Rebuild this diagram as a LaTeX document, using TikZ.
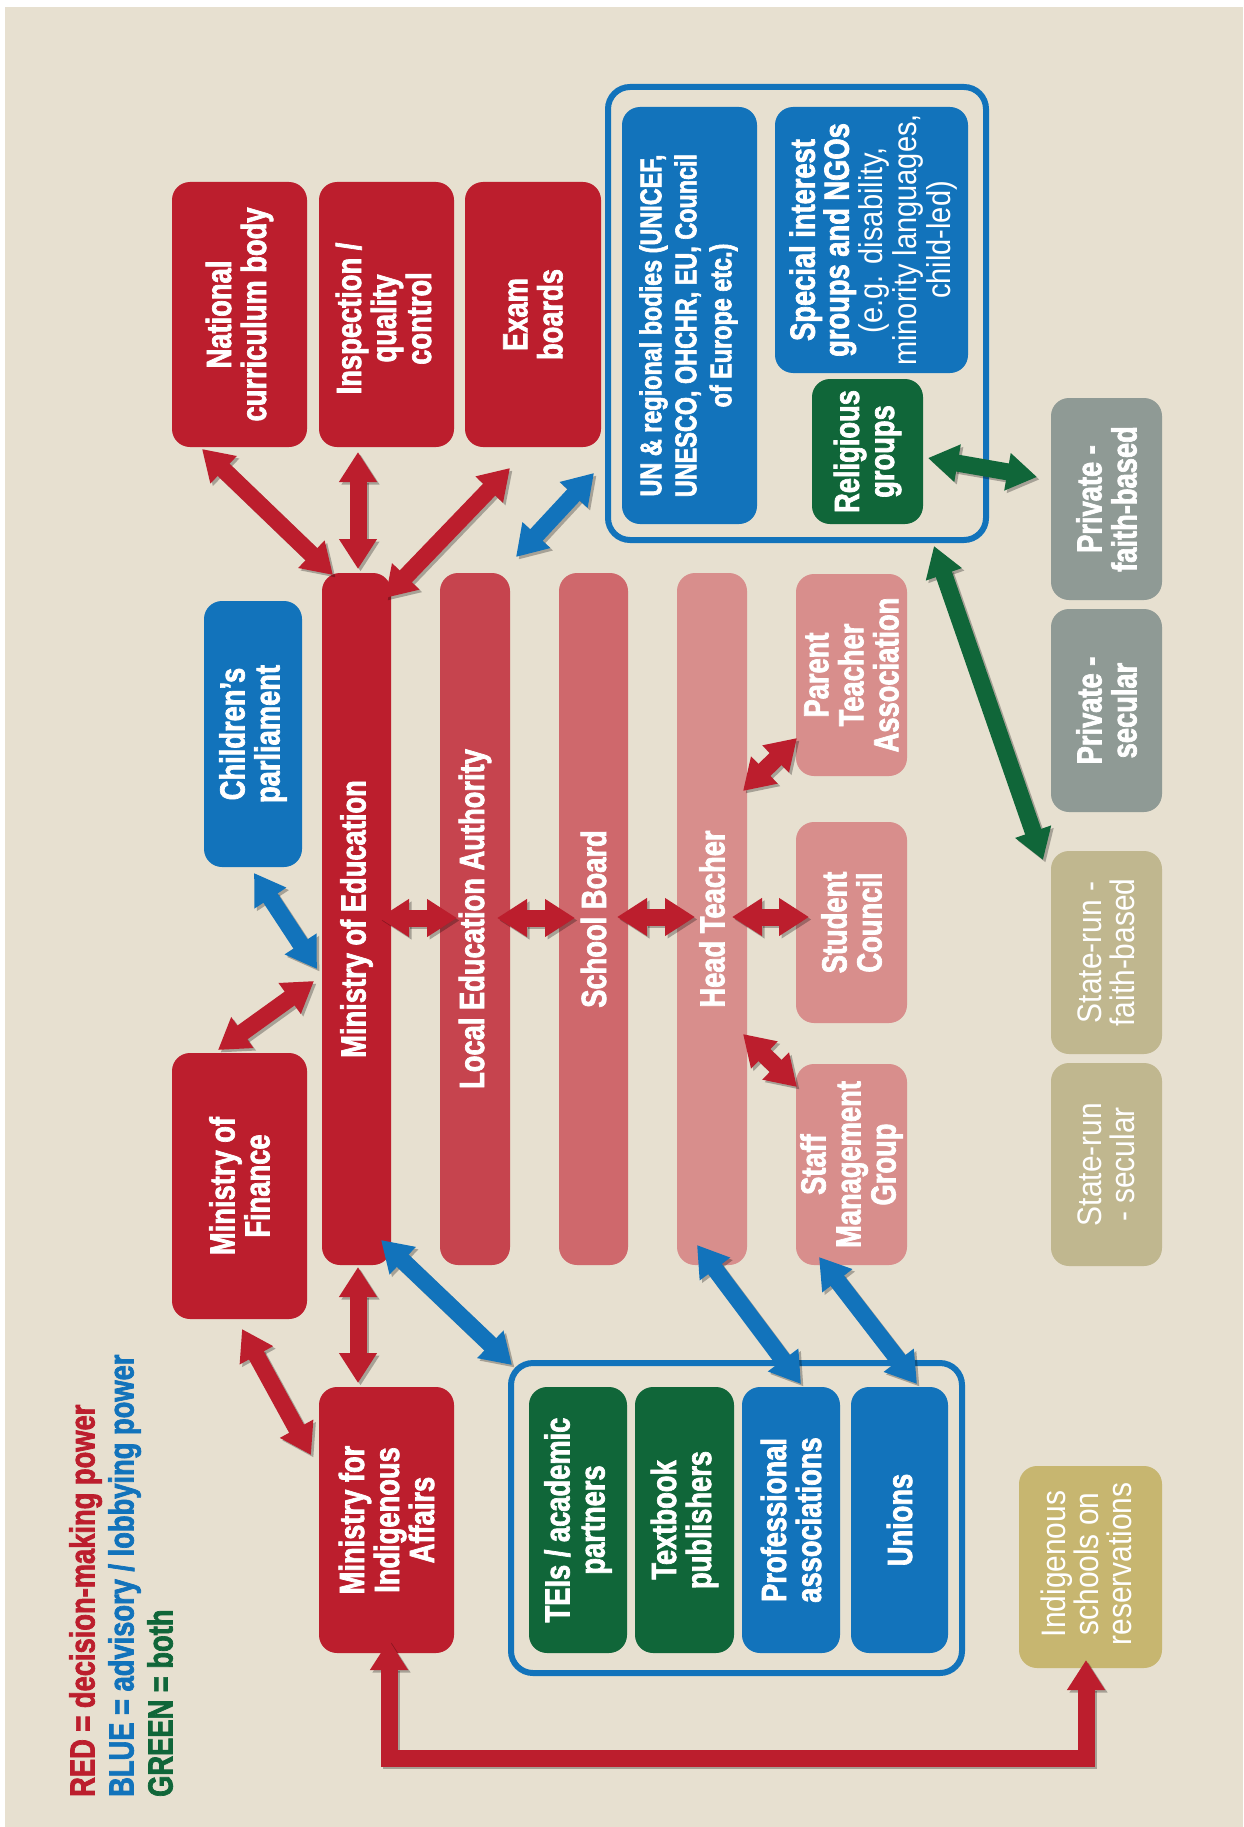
\documentclass[tikz,border=0pt]{standalone}
\usepackage{fontspec}
\setmainfont{Liberation Sans}[FakeStretch=0.78]
\newfontfamily\condreg{Liberation Sans}[FakeStretch=0.88]
\newfontfamily\condbold{Liberation Sans Bold}[FakeStretch=0.78, FakeBold=2]
\usetikzlibrary{arrows.meta,calc}
\definecolor{bg}{HTML}{E7E0D0}
\definecolor{cred}{HTML}{BC1E2D}
\definecolor{clea}{HTML}{C6444E}
\definecolor{csb}{HTML}{CF686C}
\definecolor{cht}{HTML}{D88E8C}
\definecolor{cblue}{HTML}{1273BB}
\definecolor{cgreen}{HTML}{106639}
\definecolor{cgray}{HTML}{8F9A95}
\definecolor{ctan}{HTML}{C0B78F}
\definecolor{cind}{HTML}{C7B670}
\newcommand\reglight{\condreg\fontsize{33}{34}\selectfont}
\newcommand\conn[3]{%
  \draw[#1,draw=black,opacity=0.28,transform canvas={shift={(2.5,2.5)}}] #2 -- #3;
  \draw[#1] #2 -- #3;}
\tikzset{
  box/.style={fill=#1, rounded corners=18pt, anchor=north west, inner sep=0pt, outer sep=0pt},
  frame/.style={draw=cblue, line width=6pt, rounded corners=22pt, anchor=north west, inner sep=0pt, outer sep=0pt},
  tw/.style={rotate=90, align=center, text=white, inner sep=0pt, font=\condbold\fontsize{35}{35}\selectfont},
  tsm/.style={tw, font=\condbold\fontsize{30}{35}\selectfont},
  treg/.style={tw, font=\condreg\fontsize{34}{33}\selectfont},
  arr/.style={line width=17pt, {Triangle[width=36pt,length=30pt]}-{Triangle[width=36pt,length=30pt]}},
  rarr/.style={arr, draw=cred},
  barr/.style={arr, draw=cblue},
  garr/.style={arr, draw=cgreen},
}
\begin{document}
\begin{tikzpicture}[x=1pt,y=-1pt]
\useasboundingbox (0,0) rectangle (1243,1827);
\fill[white] (0,0) rectangle (1243,1827);
\fill[bg] (5,7) rectangle (1243,1827);

% frames
\node[frame, minimum width=378pt, minimum height=453pt] (intl) at (608,87) {};
\node[frame, minimum width=451pt, minimum height=310pt] (civ) at (511,1363) {};

% top boxes
\node[box=cred, minimum width=135pt, minimum height=265pt] (nc) at (172,182) {};
\node[box=cred, minimum width=135pt, minimum height=265pt] (insp) at (319,182) {};
\node[box=cred, minimum width=136pt, minimum height=265pt] (exam) at (465,182) {};
\node[box=cblue, minimum width=135pt, minimum height=417pt] (un) at (622,107) {};
\node[box=cblue, minimum width=193pt, minimum height=266pt] (sig) at (775,107) {};
\node[box=cgreen, minimum width=111pt, minimum height=145pt] (relig) at (812,379) {};

% middle
\node[box=cblue, minimum width=98pt, minimum height=266pt] (child) at (204,601) {};
\node[box=cred, minimum width=69pt, minimum height=692pt] (mined) at (322,573) {};
\node[box=clea, minimum width=70pt, minimum height=692pt] (lea) at (440,573) {};
\node[box=csb, minimum width=69pt, minimum height=692pt] (sb) at (559,573) {};
\node[box=cht, minimum width=70pt, minimum height=692pt] (ht) at (677,573) {};
\node[box=cht, minimum width=111pt, minimum height=202pt] (pta) at (796,574) {};
\node[box=cht, minimum width=111pt, minimum height=201pt] (sc) at (796,822) {};
\node[box=cht, minimum width=111pt, minimum height=201pt] (smg) at (796,1064) {};
\node[box=cred, minimum width=135pt, minimum height=266pt] (minfin) at (172,1053) {};
\node[box=cred, minimum width=135pt, minimum height=266pt] (minind) at (319,1387) {};

% bottom group
\node[box=cgreen, minimum width=98pt, minimum height=266pt] (tei) at (529,1387) {};
\node[box=cgreen, minimum width=99pt, minimum height=266pt] (tbp) at (635,1387) {};
\node[box=cblue, minimum width=98pt, minimum height=266pt] (prof) at (742,1387) {};
\node[box=cblue, minimum width=97pt, minimum height=266pt] (unions) at (851,1387) {};

% schools
\node[box=cgray, minimum width=111pt, minimum height=202pt] (pfb) at (1051,398) {};
\node[box=cgray, minimum width=111pt, minimum height=203pt] (psec) at (1051,609) {};
\node[box=ctan, minimum width=111pt, minimum height=203pt] (sfb) at (1051,851) {};
\node[box=ctan, minimum width=111pt, minimum height=203pt] (ssec) at (1051,1063) {};
\node[box=cind, minimum width=143pt, minimum height=202pt] (indig) at (1019,1466) {};

% texts
\node[tw] (nc-t) at (nc.center) {National\\curriculum body};
\node[tw] (insp-t) at ($(insp.center)+(-3,4)$) {Inspection /\\quality\\control};
\node[tw] (exam-t) at (exam.center) {Exam\\boards};
\node[tsm] (un-t) at ($(un.center)+(-1,10)$) {UN \& regional bodies (UNICEF,\\UNESCO, OHCHR, EU, Council\\of Europe etc.)};
\node[tw, font=\condbold\fontsize{35}{34}\selectfont] (sig-t) at ($(sig.center)+(2,0)$) {Special interest\\groups and NGOs\\{\reglight (e.g. disability,}\\{\reglight minority languages,}\\{\reglight child-led)}};
\node[tw] (relig-t) at (relig.center) {Religious\\groups};
\node[tw] (child-t) at (child.center) {Children’s\\parliament};
\node[tw] (mined-t) at (mined.center) {Ministry of Education};
\node[tw] (lea-t) at (lea.center) {Local Education Authority};
\node[tw] (sb-t) at (sb.center) {School Board};
\node[tw] (ht-t) at (ht.center) {Head Teacher};
\node[tw] (pta-t) at (pta.center) {Parent\\Teacher\\Association};
\node[tw] (sc-t) at (sc.center) {Student\\Council};
\node[tw] (smg-t) at (smg.center) {Staff\\Management\\Group};
\node[tw] (minfin-t) at (minfin.center) {Ministry of\\Finance};
\node[tw] (minind-t) at (minind.center) {Ministry for\\Indigenous\\Affairs};
\node[tw] (tei-t) at (tei.center) {TEIs / academic\\partners};
\node[tw] (tbp-t) at (tbp.center) {Textbook\\publishers};
\node[tw] (prof-t) at (prof.center) {Professional\\associations};
\node[tw] (unions-t) at (unions.center) {Unions};
\node[tw] (pfb-t) at (pfb.center) {Private -\\faith-based};
\node[tw] (psec-t) at (psec.center) {Private -\\secular};
\node[treg] (sfb-t) at (sfb.center) {State-run -\\faith-based};
\node[treg] (ssec-t) at (ssec.center) {State-run\\- secular};
\node[treg] (indig-t) at ($(indig.center)+(-4,-3)$) {Indigenous\\schools on\\reservations};

% legend
\node[rotate=90, anchor=north west, align=left, inner sep=0pt, font=\condbold\fontsize{35}{39}\selectfont] (legend) at (69,1797)
  {\textcolor{cred}{RED = decision-making power}\\\textcolor{cblue}{BLUE = advisory / lobbying power}\\\textcolor{cgreen}{GREEN = both}};

% connectors
\conn{rarr}{($(nc.south)+(-37.5,2)$)}{($(mined.north)+(-23.5,2)$)}
\conn{rarr}{($(insp.south)+(-28.5,5)$)}{($(mined.north)+(1.5,-4)$)}
\conn{rarr}{($(exam.south)+(-23,21)$)}{($(mined.north)+(28.5,25)$)}
\conn{barr}{($(intl.south west)+(-14,-67)$)}{($(lea.north)+(41,-16)$)}
\conn{barr}{($(child.south)+(1,6)$)}{($(mined.west)+(-5,50)$)}
\conn{rarr}{($(mined.west)+(-8,62)$)}{($(minfin.north)+(-21.5,-3)$)}
\conn{rarr}{($(mined.east)+(-12,-1)$)}{($(lea.west)+(17,-1)$)}
\conn{rarr}{($(lea.east)+(-13,-1)$)}{($(sb.west)+(16,-1)$)}
\conn{rarr}{($(sb.east)+(-11,-2)$)}{($(ht.west)+(18,-2)$)}
\conn{rarr}{($(ht.east)+(-15,-2)$)}{($(sc.west)+(13,-5.5)$)}
\conn{rarr}{($(ht.east)+(-4,-128)$)}{($(pta.west)+(1,63)$)}
\conn{rarr}{($(ht.east)+(-4,115)$)}{($(smg.west)+(1,-77.5)$)}
\conn{rarr}{($(mined.south)+(1.5,2)$)}{($(minind.north)+(-28.5,-4)$)}
\conn{rarr}{($(minfin.south)+(2.5,10)$)}{($(minind.west)+(-8,-65)$)}
\conn{barr}{($(mined.south east)+(-10,-25)$)}{($(civ.north west)+(1,2)$)}
\conn{barr}{($(ht.south)+(-15,-20)$)}{($(prof.north)+(10,-3)$)}
\conn{barr}{($(smg.south)+(-32.5,-8)$)}{($(unions.north)+(17.5,-3)$)}
\conn{garr}{($(relig.east)+(5,6.5)$)}{($(pfb.west)+(-14,-22)$)}
\conn{garr}{($(intl.south east)+(-52,6)$)}{($(sfb.north west)+(-8,9)$)}

% L-shaped connector
\coordinate (la) at ($(minind.south)+(2.5,-13)$);
\coordinate (lb) at ($(indig.south)+(-4.5,-8)$);
\coordinate (lowline) at (0,1758);
\draw[rarr, line join=miter, draw=black, opacity=0.28, transform canvas={shift={(2.5,2.5)}}] (la) -- (la |- lowline) -- (lb |- lowline) -- (lb);
\draw[rarr, line join=miter] (la) -- (la |- lowline) -- (lb |- lowline) -- (lb);
\end{tikzpicture}
\end{document}
